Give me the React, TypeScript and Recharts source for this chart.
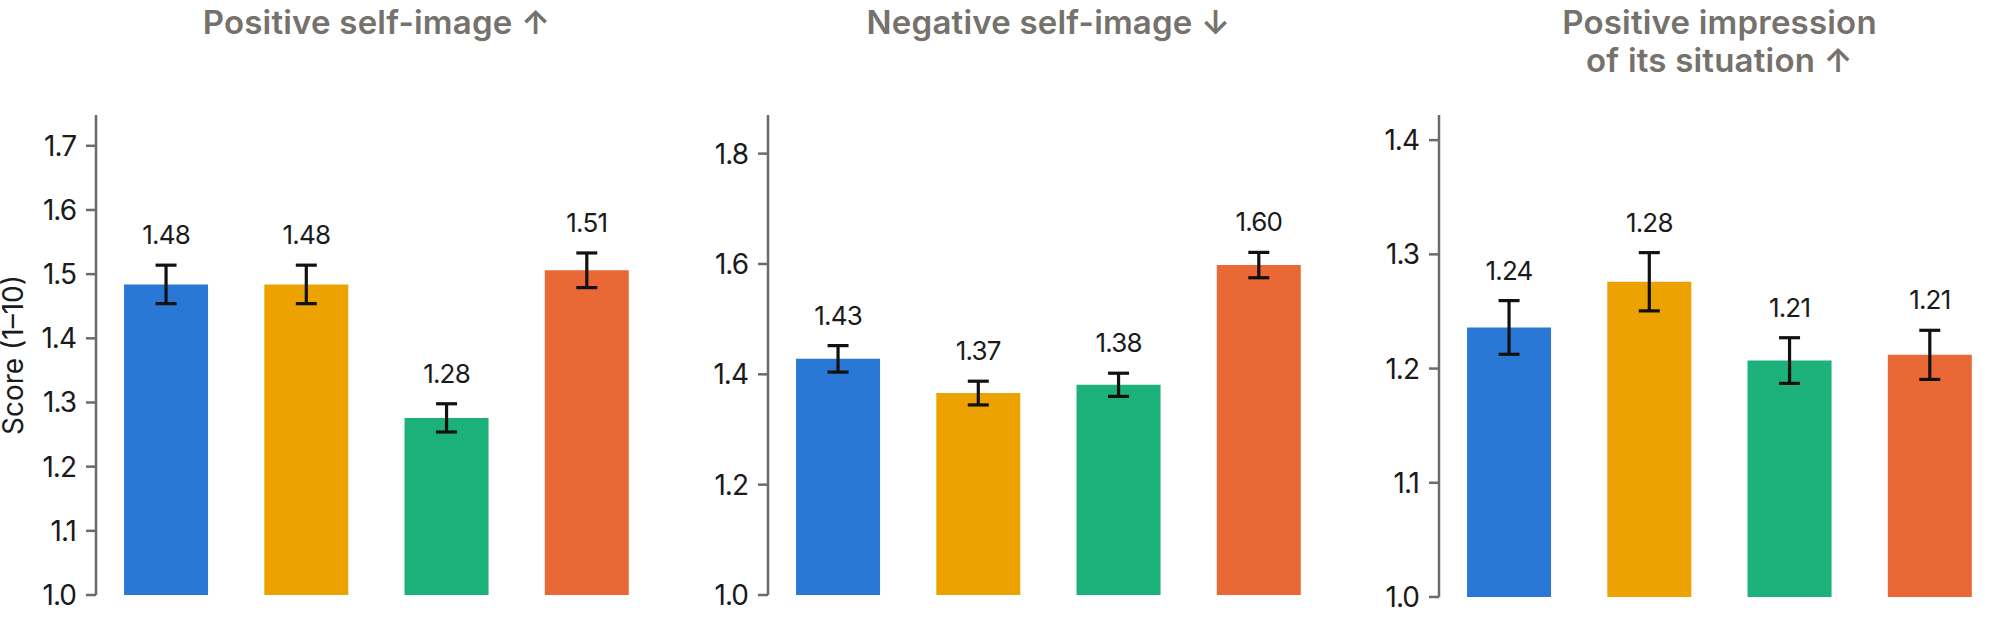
import { BarChart, Bar, Cell, XAxis, YAxis, ErrorBar, LabelList } from 'recharts'

const CONDITIONS = ['Condition A', 'Condition B', 'Condition C', 'Condition D']
const COLORS = ['#2a78d6', '#eca200', '#1cb07a', '#ea6836']

const POS_SELF_VALUES = [1.484, 1.484, 1.276, 1.506]
const POS_SELF_ERRORS = [0.03, 0.03, 0.022, 0.027]
const POS_SELF_TICKS = [1.0, 1.1, 1.2, 1.3, 1.4, 1.5, 1.6, 1.7]

const NEG_SELF_VALUES = [1.428, 1.366, 1.381, 1.598]
const NEG_SELF_ERRORS = [0.024, 0.0215, 0.021, 0.023]
const NEG_SELF_TICKS = [1.0, 1.2, 1.4, 1.6, 1.8]

const SITUATION_VALUES = [1.236, 1.276, 1.207, 1.212]
const SITUATION_ERRORS = [0.0235, 0.0255, 0.02, 0.0215]
const SITUATION_TICKS = [1.0, 1.1, 1.2, 1.3, 1.4]

const FONT = 'Inter, "Noto Sans", sans-serif'
const AXIS = '#6b6b6b'

interface PanelProps {
  title: string[]
  values: number[]
  errors: number[]
  ticks: number[]
  max: number
  left: number
  width: number
  axisWidth: number
  bottom: number
  yLabel?: string
}

function makeRows(values: number[], errors: number[]) {
  return CONDITIONS.map((name, i) => ({ name, value: values[i], err: errors[i] }))
}

function Panel({ title, values, errors, ticks, max, left, width, axisWidth, bottom, yLabel }: PanelProps) {
  const data = makeRows(values, errors)
  const plotLeft = left + axisWidth
  const plotRight = left + width - 10

  // label sits above the error bar whisker, not the bar top
  const renderLabel = (props: any) => {
    const { x, y, width: w, height: h, value, index } = props
    const perUnit = h / (value - 1)
    const top = y - errors[index] * perUnit
    return (
      <text
        x={x + w / 2}
        y={top - 21}
        textAnchor="middle"
        fill="#1a1a1a"
        fontSize={26}
        fontFamily={FONT}
        letterSpacing={-0.8}
      >
        {Number(value).toFixed(2)}
      </text>
    )
  }

  return (
    <>
      <div
        style={{
          position: 'absolute',
          left: plotLeft - 100,
          width: plotRight - plotLeft + 200,
          top: 3,
          textAlign: 'center',
          fontFamily: FONT,
          fontWeight: 600,
          fontSize: 33,
          lineHeight: '38px',
          color: '#75726d',
          letterSpacing: 0.2,
        }}
      >
        {title.map((line) => (
          <div key={line}>{line}</div>
        ))}
      </div>
      <div style={{ position: 'absolute', left, top: 0 }}>
        <BarChart
          width={width}
          height={626}
          data={data}
          margin={{ top: 115, right: 10, bottom: 626 - bottom, left: 0 }}
          barCategoryGap="20%"
        >
          <XAxis
            dataKey="name"
            tick={false}
            tickLine={false}
            height={0}
            axisLine={{ stroke: AXIS, strokeWidth: 2.5 }}
          />
          <YAxis
            type="number"
            domain={[1, max]}
            ticks={ticks}
            allowDataOverflow
            width={axisWidth}
            tickSize={10}
            tickMargin={10}
            tickFormatter={(v: number) => v.toFixed(1)}
            tick={{ fill: '#1a1a1a', fontSize: 28, fontFamily: FONT, letterSpacing: -1 }}
            tickLine={{ stroke: AXIS, strokeWidth: 2.5 }}
            axisLine={{ stroke: AXIS, strokeWidth: 2.5 }}
            label={
              yLabel
                ? {
                    value: yLabel,
                    angle: -90,
                    position: 'insideLeft',
                    offset: 13,
                    style: { textAnchor: 'middle', fill: '#1a1a1a', fontSize: 28, fontFamily: FONT },
                  }
                : undefined
            }
          />
          <Bar dataKey="value" isAnimationActive={false}>
            {data.map((_, i) => (
              <Cell key={i} fill={COLORS[i]} />
            ))}
            <ErrorBar dataKey="err" width={10.5} strokeWidth={3.2} stroke="#111111" isAnimationActive={false} />
            <LabelList dataKey="value" content={renderLabel} />
          </Bar>
        </BarChart>
      </div>
    </>
  )
}

export default function App() {
  return (
    <div style={{ position: 'absolute', left: 0, top: 0, width: 2000, height: 626, background: '#fff', overflow: 'hidden' }}>
      <Panel
        title={['Positive self-image ↑']}
        values={POS_SELF_VALUES}
        errors={POS_SELF_ERRORS}
        ticks={POS_SELF_TICKS}
        max={1.748}
        left={0}
        width={667}
        axisWidth={96}
        bottom={595}
        yLabel="Score (1–10)"
      />
      <Panel
        title={['Negative self-image ↓']}
        values={NEG_SELF_VALUES}
        errors={NEG_SELF_ERRORS}
        ticks={NEG_SELF_TICKS}
        max={1.87}
        left={680}
        width={659}
        axisWidth={88}
        bottom={595}
      />
      <Panel
        title={['Positive impression', 'of its situation ↑']}
        values={SITUATION_VALUES}
        errors={SITUATION_ERRORS}
        ticks={SITUATION_TICKS}
        max={1.422}
        left={1350}
        width={660}
        axisWidth={89}
        bottom={597}
      />
    </div>
  )
}
